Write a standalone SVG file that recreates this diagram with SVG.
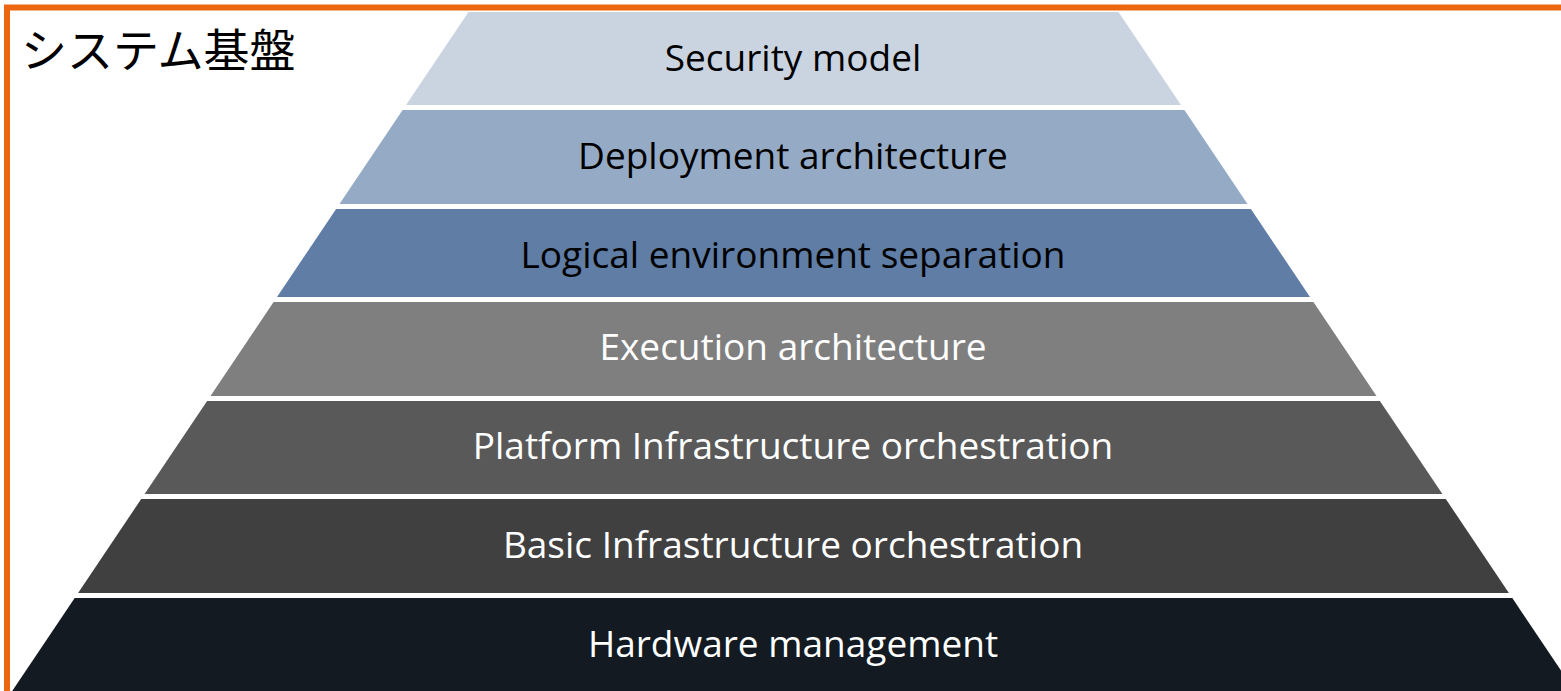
<svg xmlns="http://www.w3.org/2000/svg" width="1561" height="691" viewBox="0 0 1561 691">
<style>
.lbl{font-family:"Open Sans","Noto Sans",sans-serif;font-size:37px;text-anchor:middle}
.dk{fill:#000}
.lt{fill:#fff}
</style>
<rect x="0" y="0" width="1561" height="691" fill="#fff"/>
<rect id="frame" x="7" y="7.5" width="1600" height="720" fill="none" stroke="#EC670F" stroke-width="6"/>
<text id="title" x="21" y="67" font-family="'Noto Sans CJK JP',sans-serif" font-size="46" fill="#000">システム基盤</text>
<g id="layer1"><polygon points="468.5,12 1118.5,12 1181,105 406,105" fill="#CAD4E1"/><text class="lbl dk" x="793" y="71">Security model</text></g>
<g id="layer2"><polygon points="402.6,110 1184.4,110 1247.5,204 339.5,204" fill="#95ABC5"/><text class="lbl dk" x="793" y="169">Deployment architecture</text></g>
<g id="layer3"><polygon points="336.1,209 1250.9,209 1310,297 277,297" fill="#5F7DA5"/><text class="lbl dk" x="793" y="268">Logical environment separation</text></g>
<g id="layer4"><polygon points="273.6,302 1313.4,302 1376.5,396 210.5,396" fill="#7F7F7F"/><text class="lbl lt" x="793" y="360">Execution architecture</text></g>
<g id="layer5"><polygon points="207.1,401 1379.9,401 1442.4,494 144.6,494" fill="#595959"/><text class="lbl lt" x="793" y="459">Platform Infrastructure orchestration</text></g>
<g id="layer6"><polygon points="141.2,499 1445.8,499 1508.9,593 78.1,593" fill="#404040"/><text class="lbl lt" x="793" y="558">Basic Infrastructure orchestration</text></g>
<g id="layer7"><polygon points="74.7,598 1512.3,598 1574.8,691 12.2,691" fill="#131A21"/><text class="lbl lt" x="793" y="657">Hardware management</text></g>
<g id="connectors"/>
</svg>
